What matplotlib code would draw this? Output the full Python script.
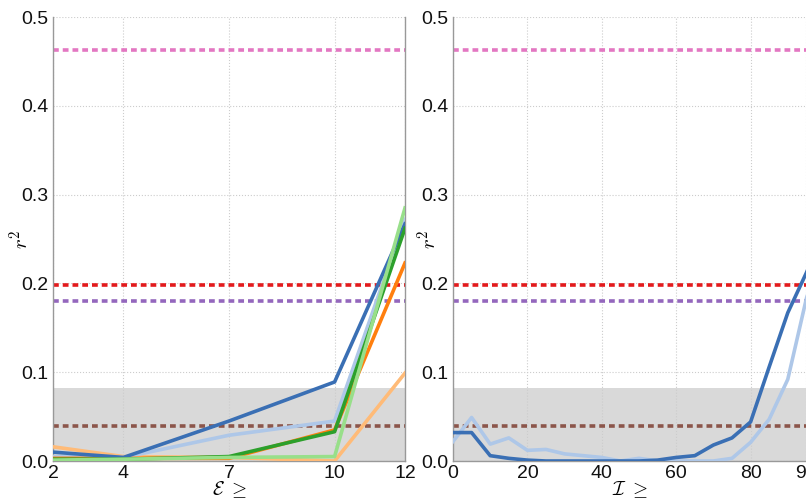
import matplotlib
matplotlib.use("Agg")
import matplotlib.pyplot as plt

plt.rcParams['font.family'] = ['Liberation Sans Narrow', 'Liberation Sans', 'DejaVu Sans']
plt.rcParams['mathtext.fontset'] = 'cm'

# left panel: E >= threshold
eps_x = [2, 4, 7, 10, 12]
eps_series = {
    'dark_blue':    [0.010, 0.004, 0.045, 0.089, 0.267],
    'light_blue':   [0.005, 0.004, 0.029, 0.045, 0.272],
    'dark_orange':  [0.003, 0.003, 0.003, 0.035, 0.223],
    'light_orange': [0.016, 0.005, 0.004, 0.000, 0.099],
    'dark_green':   [0.002, 0.002, 0.005, 0.033, 0.262],
    'light_green':  [0.001, 0.002, 0.004, 0.005, 0.285],
}
eps_xticks = [2, 4, 7, 10, 12]

# right panel: I >= threshold
int_x = [0, 5, 10, 15, 20, 25, 30, 35, 40, 45, 50, 55, 60, 65, 70, 75, 80, 85, 90, 95, 100]
int_dark = [0.032, 0.032, 0.006, 0.003, 0.001, 0.000, 0.000, 0.000, 0.000, 0.000,
            0.000, 0.001, 0.004, 0.006, 0.018, 0.026, 0.044, 0.106, 0.167, 0.212, 0.26]
int_light = [0.022, 0.049, 0.019, 0.026, 0.012, 0.013, 0.008, 0.006, 0.004, 0.000,
             0.003, 0.000, 0.000, 0.000, 0.000, 0.003, 0.021, 0.047, 0.092, 0.183, 0.25]
int_xticks = [0, 20, 40, 60, 80, 95]

# reference levels
ref_levels = {'#e377c2': 0.463, '#e31a1c': 0.198, '#9467bd': 0.180, '#8c564b': 0.039}
band_top = 0.082

colors = {
    'dark_blue': '#3a6fb4', 'light_blue': '#aec7e8',
    'dark_orange': '#ff7f0e', 'light_orange': '#ffbb78',
    'dark_green': '#2ca02c', 'light_green': '#98df8a',
}
draw_order = ['light_orange', 'light_blue', 'dark_orange', 'dark_blue', 'dark_green', 'light_green']

fig = plt.figure(figsize=(8.06, 4.99), dpi=100)
ax1 = fig.add_axes([53/806, 1 - 461/499, 352/806, 444/499])
ax2 = fig.add_axes([453/806, 1 - 461/499, 372/806, 444/499])


def style_axes(ax, ylab_x):
    ax.set_ylim(0, 0.5)
    ax.set_yticks([0.0, 0.1, 0.2, 0.3, 0.4, 0.5])
    ax.set_yticklabels(['0.0', '0.1', '0.2', '0.3', '0.4', '0.5'])
    ax.grid(True, color='#cccccc', linestyle=':', linewidth=0.8)
    ax.set_axisbelow(True)
    ax.axhspan(0, band_top, color='#d9d9d9', zorder=0.5, lw=0)
    for c, v in ref_levels.items():
        ax.axhline(v, color=c, linestyle=(0, (1.6, 1.1)), linewidth=2.6, zorder=2)
    ax.spines['top'].set_visible(False)
    for s in ['left', 'bottom', 'right']:
        ax.spines[s].set_color('#999999')
        ax.spines[s].set_linewidth(1.0)
    ax.tick_params(length=0, pad=3, labelsize=14, colors='#111111')
    ax.set_ylabel('$r^2$', fontsize=15)
    ax.yaxis.set_label_coords(ylab_x, 0.5)


style_axes(ax1, -0.057)
for key in draw_order:
    ax1.plot(eps_x, eps_series[key], color=colors[key], linewidth=2.6, zorder=3)
ax1.set_xlim(2, 12)
ax1.set_xticks(eps_xticks)
ax1.set_xticklabels([str(t) for t in eps_xticks])
ax1.set_xlabel(r'$\mathcal{E}\ \geq$', fontsize=14)
ax1.xaxis.set_label_coords(0.5, -0.04)

style_axes(ax2, -0.032)
ax2.plot(int_x, int_light, color=colors['light_blue'], linewidth=2.6, zorder=3)
ax2.plot(int_x, int_dark, color=colors['dark_blue'], linewidth=2.6, zorder=3)
ax2.set_xlim(0, 100)
ax2.set_xticks(int_xticks)
ax2.set_xticklabels([str(t) for t in int_xticks])
ax2.set_xlabel(r'$\mathcal{I}\ \geq$', fontsize=14)
ax2.xaxis.set_label_coords(0.476, -0.04)

fig.savefig('out.png', dpi=100)
